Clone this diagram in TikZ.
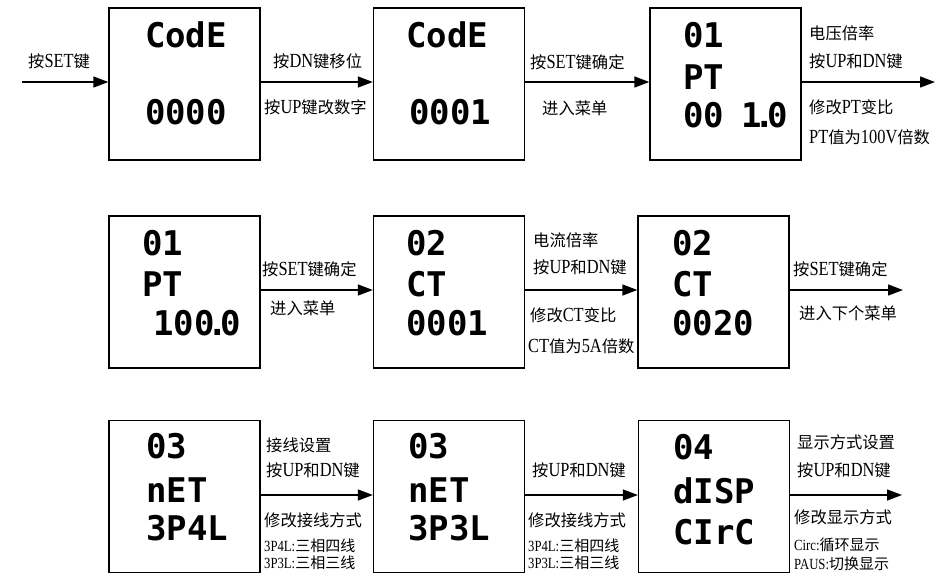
\documentclass[tikz,border=0pt]{standalone}
\usepackage{fontspec}
\newfontfamily\cjk{Noto Sans CJK SC}
\newfontfamily\latf[FakeStretch=0.82]{Liberation Serif}
\newfontfamily\segfont{DejaVu Sans Mono}
\usetikzlibrary{arrows.meta}
\newcommand\segdot{\kern-0.22em.\kern-0.2em}
\newcommand\lt[1]{{\latf\fontsize{20}{20}\selectfont #1}}
\newcommand\ls[1]{{\latf\fontsize{15.5}{15.5}\selectfont #1}}
\begin{document}
\begin{tikzpicture}[x=1pt,y=-1pt,
  box/.style={draw,line width=1.3pt,minimum width=151pt,minimum height=152pt,inner sep=0pt},
  lbl/.style={anchor=west,inner sep=0pt,font=\cjk\fontsize{16.3}{16.3}\selectfont},
  sml/.style={anchor=west,inner sep=0pt,font=\cjk\fontsize{15}{15}\selectfont},
  seg/.style={anchor=west,inner sep=0pt,font=\segfont\bfseries\fontsize{34}{34}\selectfont},
  segc/.style={seg,anchor=center},
  arr/.style={line width=1.3pt,-{Triangle[length=15pt,width=11pt]}}]
\useasboundingbox (0,0) rectangle (943,579);

% boxes
\node[box] (b1) at (184.5,84) {};
\node[box] (b2) at (449,84) {};
\node[box] (b3) at (725.5,84) {};
\node[box] (b4) at (184.5,292) {};
\node[box] (b5) at (449,292) {};
\node[box] (b6) at (713.5,292) {};
\node[box] (b7) at (184.5,496.5) {};
\node[box] (b8) at (449,496.5) {};
\node[box] (b9) at (714,496.5) {};

% display texts
\node[segc] (d11) at (186,35) {CodE};
\node[segc] (d12) at (186,112) {0000};
\node[segc] (d21) at (447,35) {CodE};
\node[segc] (d22) at (450,112) {0001};
\node[seg] (d31) at (683,35) {01};
\node[seg] (d32) at (683,77) {PT};
\node[seg] (d33) at (683,115) {00\hspace{0.5em}1\segdot0};

\node[seg] (d41) at (142,243) {01};
\node[seg] (d42) at (142,284) {PT};
\node[seg] (d43) at (153,323) {100\segdot0};
\node[seg] (d51) at (406,243) {02};
\node[seg] (d52) at (406,284) {CT};
\node[seg] (d53) at (406,323) {0001};
\node[seg] (d61) at (672,243) {02};
\node[seg] (d62) at (672,284) {CT};
\node[seg] (d63) at (672,323) {0020};

\node[seg] (d71) at (146,446) {03};
\node[seg] (d72) at (146,490) {nET};
\node[seg] (d73) at (146,528) {3P4L};
\node[seg] (d81) at (408,446) {03};
\node[seg] (d82) at (408,490) {nET};
\node[seg] (d83) at (408,528) {3P3L};
\node[seg] (d91) at (673,447) {04};
\node[seg] (d92) at (673,491) {dISP};
\node[seg] (d93) at (673,532) {CIrC};

% connectors
\coordinate (start) at (22,82);
\coordinate (o1) at (935,82);
\coordinate (o2) at (903,290);
\coordinate (o3) at (902,495);
\draw[arr] (start) -- (start -| b1.west);
\draw[arr] ([yshift=2pt]b1.east) -- ([yshift=2pt]b2.west);
\draw[arr] ([yshift=2pt]b2.east) -- ([yshift=2pt]b3.west);
\draw[arr] ([yshift=2pt]b3.east) -- (o1);
\draw[arr] ([yshift=2pt]b4.east) -- ([yshift=2pt]b5.west);
\draw[arr] ([yshift=2pt]b5.east) -- ([yshift=2pt]b6.west);
\draw[arr] ([yshift=2pt]b6.east) -- (o2);
\draw[arr] ([yshift=1.5pt]b7.east) -- ([yshift=1.5pt]b8.west);
\draw[arr] ([yshift=1.5pt]b8.east) -- ([yshift=1.5pt]b9.west);
\draw[arr] ([yshift=1.5pt]b9.east) -- (o3);

% labels row 1
\node[lbl] (l1) at (28,61) {按\lt{SET}键};
\node[lbl] (l2) at (273,61) {按\lt{DN}键移位};
\node[lbl] (l3) at (264,107) {按\lt{UP}键改数字};
\node[lbl] (l4) at (530,62) {按\lt{SET}键确定};
\node[lbl] (l5) at (542,108) {进入菜单};
\node[lbl] (l6) at (809,33) {电压倍率};
\node[lbl] (l7) at (809,61) {按\lt{UP}和\lt{DN}键};
\node[lbl] (l8) at (809,107) {修改\lt{PT}变比};
\node[lbl] (l9) at (809,137) {\lt{PT}值为\lt{100V}倍数};

% labels row 2
\node[lbl] (m1) at (262,269) {按\lt{SET}键确定};
\node[lbl] (m2) at (270,308) {进入菜单};
\node[lbl] (m3) at (533,240) {电流倍率};
\node[lbl] (m4) at (533,267) {按\lt{UP}和\lt{DN}键};
\node[lbl] (m5) at (530,315) {修改\lt{CT}变比};
\node[lbl] (m6) at (528,346) {\lt{CT}值为\lt{5A}倍数};
\node[lbl] (m7) at (793,269) {按\lt{SET}键确定};
\node[lbl] (m8) at (799,313) {进入下个菜单};

% labels row 3
\node[lbl] (n1) at (266,445) {接线设置};
\node[lbl] (n2) at (266,470) {按\lt{UP}和\lt{DN}键};
\node[lbl] (n3) at (264,520) {修改接线方式};
\node[sml] (n4) at (264,546) {\ls{3P4L:}三相四线};
\node[sml] (n5) at (264,563) {\ls{3P3L:}三相三线};
\node[lbl] (n6) at (532,470) {按\lt{UP}和\lt{DN}键};
\node[lbl] (n7) at (528,520) {修改接线方式};
\node[sml] (n8) at (528,546) {\ls{3P4L:}三相四线};
\node[sml] (n9) at (528,563) {\ls{3P3L:}三相三线};
\node[lbl] (p1) at (797,442) {显示方式设置};
\node[lbl] (p2) at (797,470) {按\lt{UP}和\lt{DN}键};
\node[lbl] (p3) at (794,517) {修改显示方式};
\node[sml] (p4) at (794,545) {\ls{Circ:}循环显示};
\node[sml] (p5) at (794,564) {\ls{PAUS:}切换显示};
\end{tikzpicture}
\end{document}
